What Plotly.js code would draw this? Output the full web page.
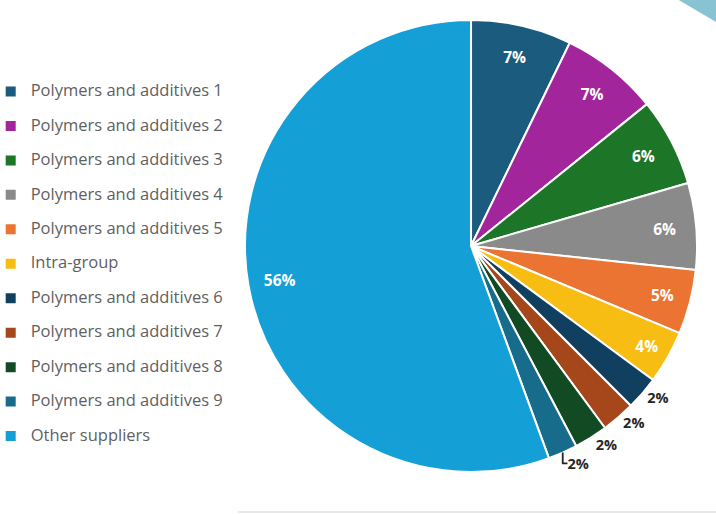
<!DOCTYPE html>
<html>
<head>
<meta charset="utf-8">
<script src="https://cdn.plot.ly/plotly-3.0.1.min.js"></script>
<style>html,body{margin:0;padding:0;background:#fff;}#chart{width:716px;height:514px;}</style>
</head>
<body>
<div id="chart"></div>
<script>
var categories = [
  "Polymers and additives 1",
  "Polymers and additives 2",
  "Polymers and additives 3",
  "Polymers and additives 4",
  "Polymers and additives 5",
  "Intra-group",
  "Polymers and additives 6",
  "Polymers and additives 7",
  "Polymers and additives 8",
  "Polymers and additives 9",
  "Other suppliers"
];
var shares = [7.2, 7.0, 6.3, 6.2, 4.6, 3.8, 2.4, 2.4, 2.4, 2.1, 55.6];
var sliceColors = [
  "#1a5b7e", "#a3259c", "#1d7528", "#8a8a8a", "#ec7432", "#f8bd12",
  "#113f5f", "#a5461b", "#124a24", "#176b8b", "#149fd7"
];
var labelPositions = ["inside","inside","inside","inside","inside","inside",
  "outside","outside","outside","outside","inside"];

var legendLabels = categories.map(function (c) {
  return '<span style="font-size:16.5px">' + c + '</span><br>&nbsp;';
});
var pieDomain = { x: [0.3422, 0.9735], y: [0.0817, 0.9611] };

// Slices + legend
var slices = {
  type: "pie",
  labels: legendLabels,
  values: shares,
  sort: false,
  direction: "clockwise",
  rotation: 0,
  marker: { colors: sliceColors, line: { color: "#ffffff", width: 2 } },
  textinfo: "none",
  hoverinfo: "percent",
  domain: pieDomain
};

// Same data, transparent ring carrying the percentage labels near the rim
var labelRing = {
  type: "pie",
  labels: legendLabels,
  values: shares,
  sort: false,
  direction: "clockwise",
  rotation: 0,
  hole: 0.72,
  showlegend: false,
  marker: { colors: sliceColors.map(function () { return "rgba(0,0,0,0)"; }), line: { width: 0 } },
  texttemplate: "%{percent:.0%}",
  textposition: labelPositions,
  insidetextorientation: "horizontal",
  insidetextfont: { family: "Open Sans, Arial, sans-serif", size: 15.5, color: "#ffffff", weight: "bold" },
  outsidetextfont: { family: "Open Sans, Arial, sans-serif", size: 14.5, color: "#262626", weight: "bold" },
  hoverinfo: "skip",
  domain: pieDomain
};

var layout = {
  width: 716,
  height: 514,
  margin: { l: 0, r: 0, t: 0, b: 0, autoexpand: false },
  paper_bgcolor: "#ffffff",
  showlegend: true,
  legend: {
    x: -0.013,
    xanchor: "left",
    y: 0.85,
    yanchor: "top",
    valign: "top",
    bgcolor: "rgba(0,0,0,0)",
    font: { family: "Open Sans, Arial, sans-serif", size: 12.1, color: "#5f5f5f" }
  },
  shapes: [
    { type: "path", xref: "paper", yref: "paper",
      path: "M 0.948 1 L 1 1 L 1 0.957 Z",
      fillcolor: "#88c3d4", line: { width: 0 } },
    { type: "line", xref: "paper", yref: "paper",
      x0: 0.332, x1: 1, y0: 0.004, y1: 0.004,
      line: { color: "#e3e3e3", width: 1.5 } }
  ]
};

Plotly.newPlot("chart", [slices, labelRing], layout, { displayModeBar: false, staticPlot: true });
</script>
</body>
</html>
